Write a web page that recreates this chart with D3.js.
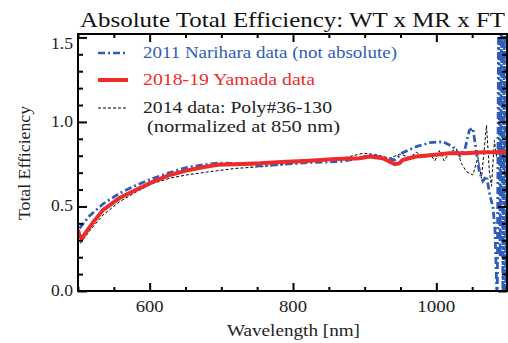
<!DOCTYPE html>
<html>
<head>
<meta charset="utf-8">
<script src="https://cdn.jsdelivr.net/npm/d3@7"></script>
<style>
  body { margin: 0; background: #fff; }
  svg text { font-family: "Liberation Serif", "DejaVu Serif", serif !important; }
</style>
</head>
<body>
<div id="chart"></div>
<script>
// 2018-19 Yamada data (red)
const yamadaWl = [500, 502, 505, 510, 520, 535, 558, 582, 605, 628, 651, 674, 695, 720, 754, 790, 823, 860, 893, 907, 925, 935, 942, 948, 953, 962, 972, 995, 1018, 1040, 1065, 1080, 1100];
const yamadaEff = [0.36, 0.33, 0.31, 0.34, 0.40, 0.48, 0.55, 0.60, 0.647, 0.686, 0.712, 0.732, 0.746, 0.75, 0.755, 0.765, 0.771, 0.78, 0.785, 0.795, 0.785, 0.765, 0.75, 0.755, 0.775, 0.785, 0.795, 0.805, 0.815, 0.815, 0.82, 0.82, 0.824];

// 2011 Narihara data (blue, not absolute)
const narWl = [502, 515, 535, 558, 582, 605, 628, 651, 674, 695, 720, 754, 790, 823, 865, 893, 907, 928, 942, 953, 972, 991, 1009, 1023, 1033, 1040, 1046, 1051, 1055, 1060, 1065, 1070, 1075, 1079, 1082, 1085, 1087, 1089, 1091, 1093, 1095, 1097, 1100];
const narEff = [0.37, 0.44, 0.515, 0.578, 0.627, 0.667, 0.70, 0.73, 0.746, 0.756, 0.755, 0.74, 0.75, 0.76, 0.765, 0.785, 0.805, 0.785, 0.775, 0.818, 0.854, 0.877, 0.883, 0.854, 0.80, 0.84, 0.95, 0.963, 0.85, 0.706, 0.65, 0.68, 0.56, 0.50, 0.35, -0.1, 1.7, 0.2, 1.7, -0.1, 1.6, 0.0, 1.7];

// 2014 data: Poly#36-130 (black dashed)
const polyWl = [503, 510, 517, 535, 558, 582, 605, 628, 651, 674, 695, 720, 754, 790, 823, 860, 879, 898, 917, 935, 949, 963, 972, 985, 991, 998, 1004, 1011, 1018, 1028, 1035, 1042, 1051, 1058, 1063, 1070, 1074, 1077, 1081, 1084, 1087, 1090, 1093, 1096, 1100];
const polyEff = [0.28, 0.32, 0.36, 0.45, 0.528, 0.588, 0.637, 0.667, 0.686, 0.70, 0.712, 0.725, 0.735, 0.75, 0.765, 0.78, 0.795, 0.815, 0.805, 0.785, 0.81, 0.79, 0.82, 0.79, 0.81, 0.77, 0.83, 0.77, 0.82, 0.84, 0.755, 0.706, 0.686, 0.79, 0.667, 0.98, 0.706, 0.62, 0.89, 0.795, 0.86, 0.726, 0.82, 0.65, 0.74];

const xTicks = [600, 800, 1000];
const yTicks = [0.0, 0.5, 1.0, 1.5];
const legendLabels = ["2011 Narihara data (not absolute)", "2018-19 Yamada data", "2014 data: Poly#36-130", "(normalized at 850 nm)"];

(function () {
    let width = 508, height = 343;
    let left = 78, right = 508, top = 34, bottom = 291;
    let blue = "#2f5db5", red = "#ee2b2b";

    let svg = d3.select("#chart")
        .append("svg")
        .attr("width", width)
        .attr("height", height);

    let x = d3.scaleLinear().domain([500, 1100]).range([left, right]);
    let y = d3.scaleLinear().domain([0, 1.52]).range([bottom, top]);

    svg.append("defs").append("clipPath")
        .attr("id", "plotclip")
        .append("rect")
        .attr("x", left).attr("y", top)
        .attr("width", right - left).attr("height", bottom - top);

    let line = d3.line()
        .x(d => x(d[0]))
        .y(d => y(d[1]));

    let plot = svg.append("g").attr("clip-path", "url(#plotclip)");

    plot.append("path")
        .attr("d", line(d3.zip(polyWl, polyEff)))
        .attr("fill", "none")
        .attr("stroke", "#000")
        .attr("stroke-width", 1)
        .attr("stroke-dasharray", "3,2");

    plot.append("path")
        .attr("d", line(d3.zip(narWl, narEff)))
        .attr("fill", "none")
        .attr("stroke", blue)
        .attr("stroke-width", 2.8)
        .attr("stroke-dasharray", "7,3,2,3");

    plot.append("path")
        .attr("d", line(d3.zip(yamadaWl, yamadaEff)))
        .attr("fill", "none")
        .attr("stroke", red)
        .attr("stroke-width", 4);

    // axes, ticks on all four sides
    let xb = svg.append("g")
        .attr("transform", `translate(0,${bottom})`)
        .call(d3.axisBottom(x).tickValues(d3.range(500, 1101, 50)).tickSize(0).tickFormat(""));
    xb.selectAll(".tick line")
        .attr("y2", d => d % 200 === 0 ? -8 : -4)
        .attr("stroke-width", 2);
    xb.select(".domain").remove();

    let xt = svg.append("g")
        .attr("transform", `translate(0,${top})`)
        .call(d3.axisTop(x).tickValues(d3.range(500, 1101, 50)).tickSize(0).tickFormat(""));
    xt.selectAll(".tick line")
        .attr("y2", d => d % 200 === 0 ? 8 : 4)
        .attr("stroke-width", 2);
    xt.select(".domain").remove();

    let yl = svg.append("g")
        .attr("transform", `translate(${left},0)`)
        .call(d3.axisLeft(y).tickValues(d3.range(0, 16).map(i => i / 10)).tickSize(0).tickFormat(""));
    yl.selectAll(".tick line")
        .attr("x2", (d, i) => i % 5 === 0 ? 9 : 5)
        .attr("stroke-width", 2);
    yl.select(".domain").remove();

    let yr = svg.append("g")
        .attr("transform", `translate(${right - 1},0)`)
        .call(d3.axisRight(y).tickValues(d3.range(0, 16).map(i => i / 10)).tickSize(0).tickFormat(""));
    yr.selectAll(".tick line")
        .attr("x2", (d, i) => i % 5 === 0 ? -9 : -5)
        .attr("stroke-width", 2);
    yr.select(".domain").remove();

    svg.append("rect")
        .attr("x", left).attr("y", top)
        .attr("width", right - 1 - left).attr("height", bottom - top)
        .attr("fill", "none")
        .attr("stroke", "#000")
        .attr("stroke-width", 2);

    // tick labels
    svg.selectAll(".xlab")
        .data(xTicks)
        .enter()
        .append("text")
        .attr("x", d => x(d))
        .attr("y", 312)
        .attr("text-anchor", "middle")
        .attr("font-size", "16px")
        .attr("textLength", d => d >= 1000 ? 38 : 28)
        .attr("lengthAdjust", "spacingAndGlyphs")
        .attr("fill", "#222")
        .text(d => d);

    svg.selectAll(".ylab")
        .data(yTicks)
        .enter()
        .append("text")
        .attr("x", 73)
        .attr("y", d => d === 1.5 ? y(d) + 12 : y(d) + 5)
        .attr("text-anchor", "end")
        .attr("font-size", "16px")
        .attr("textLength", 22)
        .attr("lengthAdjust", "spacingAndGlyphs")
        .attr("fill", "#222")
        .text(d => d.toFixed(1));

    // titles
    svg.append("text")
        .attr("x", 80).attr("y", 27)
        .attr("font-size", "21px")
        .attr("textLength", 425)
        .attr("lengthAdjust", "spacingAndGlyphs")
        .attr("fill", "#111")
        .text("Absolute Total Efficiency: WT x MR x FT");

    svg.append("text")
        .attr("x", 227).attr("y", 336)
        .attr("font-size", "16px")
        .attr("textLength", 133)
        .attr("lengthAdjust", "spacingAndGlyphs")
        .attr("fill", "#222")
        .text("Wavelength [nm]");

    svg.append("text")
        .attr("transform", "translate(30,220) rotate(-90)")
        .attr("font-size", "16px")
        .attr("textLength", 114)
        .attr("lengthAdjust", "spacingAndGlyphs")
        .attr("fill", "#222")
        .text("Total Efficiency");

    // legend
    let lg = svg.append("g");
    lg.append("line")
        .attr("x1", 98).attr("x2", 128).attr("y1", 53).attr("y2", 53)
        .attr("stroke", blue).attr("stroke-width", 2.5).attr("stroke-dasharray", "7,3,2,3");
    lg.append("line")
        .attr("x1", 98).attr("x2", 128).attr("y1", 80).attr("y2", 80)
        .attr("stroke", red).attr("stroke-width", 4);
    lg.append("line")
        .attr("x1", 98).attr("x2", 128).attr("y1", 108).attr("y2", 108)
        .attr("stroke", "#000").attr("stroke-width", 1).attr("stroke-dasharray", "3,2");
    let legendY = [58, 85, 113, 132];
    let legendX = [143, 143, 143, 147];
    let legendW = [254, 172, 189, 193];
    let legendC = [blue, red, "#222", "#222"];
    lg.selectAll("text")
        .data(legendLabels)
        .enter()
        .append("text")
        .attr("x", (_, i) => legendX[i])
        .attr("y", (_, i) => legendY[i])
        .attr("font-size", "17px")
        .attr("textLength", (_, i) => legendW[i])
        .attr("lengthAdjust", "spacingAndGlyphs")
        .attr("fill", (_, i) => legendC[i])
        .text(d => d);
})()
</script>
</body>
</html>
